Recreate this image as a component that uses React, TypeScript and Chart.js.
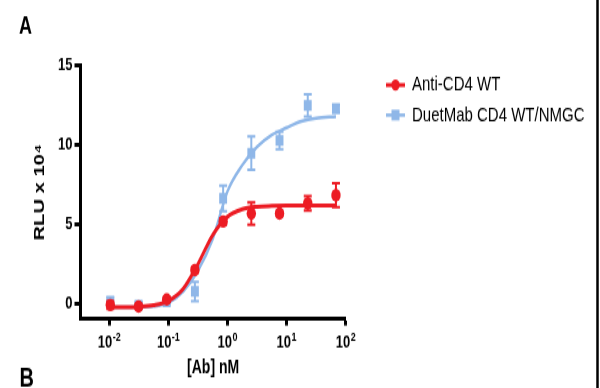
import React, { useEffect, useRef } from 'react';
import { Chart, registerables } from 'chart.js';

Chart.register(...registerables);

// ---- data ----
const concentrations = [0.0104, 0.0313, 0.0938, 0.281, 0.844, 2.53, 7.59, 22.8, 68.4];
const antiCD4 = [-0.05, -0.15, 0.3, 2.15, 5.2, 5.7, 5.7, 6.35, 6.85];
const antiCD4Err = [0.25, 0.15, 0.15, 0.15, 0.2, 0.7, 0.15, 0.45, 0.75];
const duetMab = [0.15, -0.05, 0.15, 0.8, 6.65, 9.5, 10.3, 12.5, 12.3];
const duetMabErr = [0.3, 0.2, 0.15, 0.6, 0.8, 1.05, 0.55, 0.7, 0.25];

const fitX = [0.01, 0.0178, 0.0316, 0.0562, 0.1, 0.178, 0.316, 0.562, 1, 1.78, 3.16, 5.62, 10, 17.8, 31.6, 68.4];
const antiCD4Fit = [-0.2, -0.19, -0.16, -0.07, 0.21, 0.97, 2.52, 4.35, 5.5, 5.97, 6.13, 6.18, 6.2, 6.2, 6.2, 6.2];
const duetMabFit = [-0.2, -0.2, -0.18, -0.12, 0.08, 0.8, 2.1, 4.1, 7.1, 8.75, 9.9, 10.65, 11.1, 11.5, 11.7, 11.8];

const seriesNames = ['Anti-CD4 WT', 'DuetMab CD4 WT/NMGC'];
const xTickValues = [0.01, 0.1, 1, 10, 100];
const xTickBase = '10';
const xTickExponents = ['-2', '-1', '0', '1', '2'];
const yTickValues = [0, 5, 10, 15];
const xTitle = '[Ab] nM';
const yTitle = 'RLU x 10\u2074';
const panelLabels = ['A', 'B'];

// ---- style ----
const RED = '#ec1c24';
const BLUE = '#8fb7e8';
const W = 600;
const H = 288;
const FONT = "'Liberation Sans', Arial, Helvetica, sans-serif";

const errorBars = {
  id: 'errorBars',
  afterDatasetDraw(chart: any, args: any) {
    const ds = chart.data.datasets[args.index];
    if (!ds.errors) return;
    const ctx = chart.ctx;
    const ys = chart.scales.y;
    ctx.save();
    ctx.strokeStyle = ds.borderColor;
    ctx.lineWidth = 2;
    args.meta.data.forEach((pt: any, i: number) => {
      const v = ds.data[i].y;
      const e = ds.errors[i];
      const x = pt.x;
      const yt = ys.getPixelForValue(v + e);
      const yb = ys.getPixelForValue(v - e);
      ctx.beginPath();
      ctx.moveTo(x, yt);
      ctx.lineTo(x, yb);
      ctx.moveTo(x - 4, yt);
      ctx.lineTo(x + 4, yt);
      ctx.moveTo(x - 4, yb);
      ctx.lineTo(x + 4, yb);
      ctx.stroke();
    });
    ctx.restore();
  },
};

const decorations = {
  id: 'decorations',
  afterDraw(chart: any) {
    const ctx = chart.ctx;
    ctx.save();
    ctx.fillStyle = '#000';
    ctx.textBaseline = 'alphabetic';
    ctx.textAlign = 'left';
    ctx.font = `bold 18px ${FONT}`;
    ctx.fillText(panelLabels[0], 19, 24.5);
    ctx.font = `bold 20px ${FONT}`;
    ctx.fillText(panelLabels[1], 19.5, 286.5);

    // x tick labels: 10 with superscript exponent
    const xs = chart.scales.x;
    xTickValues.forEach((v, i) => {
      const px = xs.getPixelForValue(v);
      ctx.font = `bold 13px ${FONT}`;
      const w1 = ctx.measureText(xTickBase).width;
      ctx.font = `bold 9px ${FONT}`;
      const w2 = ctx.measureText(xTickExponents[i]).width;
      const start = px - (w1 + w2 + 0.5) / 2;
      ctx.font = `bold 13px ${FONT}`;
      ctx.fillText(xTickBase, start, 258.3);
      ctx.font = `bold 9px ${FONT}`;
      ctx.fillText(xTickExponents[i], start + w1 + 0.5, 252.8);
    });

    // right frame line
    ctx.strokeStyle = '#000';
    ctx.lineWidth = 2.5;
    ctx.beginPath();
    ctx.moveTo(597.5, 0);
    ctx.lineTo(597.5, H);
    ctx.stroke();

    // legend
    const entries = [
      { name: seriesNames[0], color: RED, shape: 'circle', y: 63.1, lw: 3 },
      { name: seriesNames[1], color: BLUE, shape: 'rect', y: 85.4, lw: 2.5 },
    ];
    entries.forEach((en) => {
      ctx.strokeStyle = en.color;
      ctx.fillStyle = en.color;
      ctx.lineWidth = en.lw;
      ctx.beginPath();
      ctx.moveTo(386, en.y);
      ctx.lineTo(405, en.y);
      ctx.stroke();
      if (en.shape === 'circle') {
        ctx.beginPath();
        ctx.arc(395.5, en.y, 4.2, 0, Math.PI * 2);
        ctx.fill();
      } else {
        ctx.fillRect(391.5, en.y - 4, 8, 8);
      }
      ctx.fillStyle = '#000';
      ctx.font = `15px ${FONT}`;
      ctx.textBaseline = 'middle';
      ctx.fillText(en.name, 412, en.y);
      ctx.textBaseline = 'alphabetic';
    });
    ctx.restore();
  },
};

export default function App() {
  const ref = useRef<HTMLCanvasElement>(null);

  useEffect(() => {
    const pts = (xs: number[], ys: number[]) => xs.map((x, i) => ({ x, y: ys[i] }));
    const chart = new Chart(ref.current as HTMLCanvasElement, {
      type: 'line',
      data: {
        datasets: [
          {
            label: seriesNames[0],
            data: pts(concentrations, antiCD4),
            showLine: false,
            pointStyle: 'circle',
            pointRadius: 4.7,
            backgroundColor: RED,
            borderColor: RED,
            borderWidth: 0,
            errors: antiCD4Err,
            order: 0,
          } as any,
          {
            label: seriesNames[0] + ' fit',
            data: pts(fitX, antiCD4Fit),
            borderColor: RED,
            borderWidth: 3,
            pointRadius: 0,
            cubicInterpolationMode: 'monotone',
            fill: false,
            order: 1,
          },
          {
            label: seriesNames[1],
            data: pts(concentrations, duetMab),
            showLine: false,
            pointStyle: 'rect',
            pointRadius: 5.6,
            backgroundColor: BLUE,
            borderColor: BLUE,
            borderWidth: 0,
            errors: duetMabErr,
            order: 2,
          } as any,
          {
            label: seriesNames[1] + ' fit',
            data: pts(fitX, duetMabFit),
            borderColor: BLUE,
            borderWidth: 2.5,
            pointRadius: 0,
            cubicInterpolationMode: 'monotone',
            fill: false,
            order: 3,
          },
        ],
      },
      options: {
        responsive: false,
        animation: false,
        events: [],
        layout: { padding: { left: 0, top: 48.8, right: 254.3, bottom: 0 } },
        plugins: {
          legend: { display: false },
          tooltip: { enabled: false },
        },
        scales: {
          x: {
            type: 'logarithmic',
            min: 0.00326,
            max: 100,
            afterBuildTicks: (s: any) => {
              s.ticks = xTickValues.map((v) => ({ value: v }));
            },
            afterFit: (s: any) => {
              s.height = H - 236.6;
            },
            ticks: { display: false },
            grid: { drawOnChartArea: false, tickLength: 5, tickWidth: 3, tickColor: '#000' },
            border: { display: true, width: 3, color: '#000' },
            title: {
              display: true,
              text: xTitle,
              color: '#000',
              font: { family: FONT, size: 14, weight: 'bold' },
              padding: { top: 0, bottom: 6 },
            },
          } as any,
          y: {
            type: 'linear',
            min: -0.92,
            max: 15,
            afterBuildTicks: (s: any) => {
              s.ticks = yTickValues.map((v) => ({ value: v }));
            },
            afterFit: (s: any) => {
              s.width = 80.5;
            },
            ticks: {
              padding: 2,
              color: '#000',
              font: { family: FONT, size: 13, weight: 'bold' },
            },
            grid: { drawOnChartArea: false, tickLength: 6, tickWidth: 3, tickColor: '#000' },
            border: { display: true, width: 3, color: '#000' },
            title: {
              display: true,
              text: yTitle,
              color: '#000',
              font: { family: FONT, size: 15, weight: 'bold' },
              padding: { top: 31, bottom: 0 },
            },
          } as any,
        },
      },
      plugins: [errorBars, decorations],
    } as any);
    return () => chart.destroy();
  }, []);

  return (
    <div style={{ position: 'fixed', left: 0, top: 0, width: 600, height: 388, background: '#fff', overflow: 'hidden' }}>
      <canvas ref={ref} width={W} height={H} style={{ width: '600px', height: '388px', display: 'block' }} />
    </div>
  );
}
